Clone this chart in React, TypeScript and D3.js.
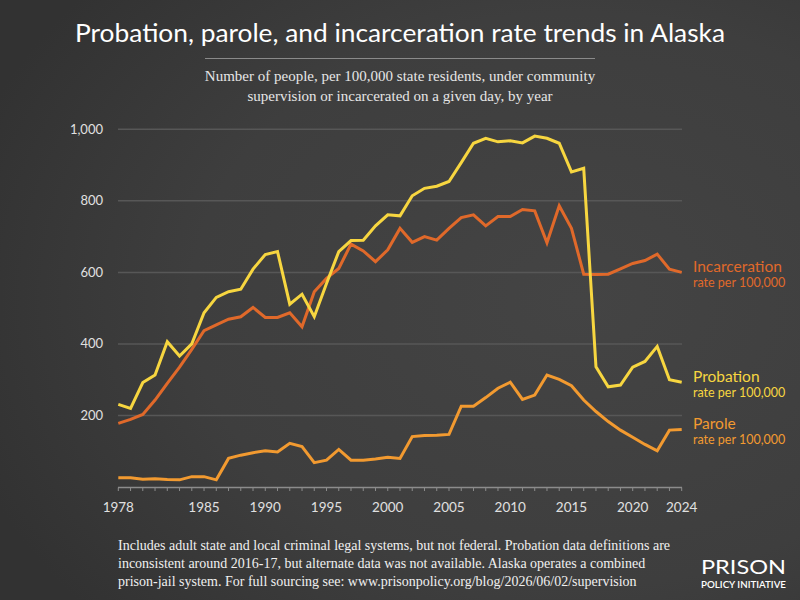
import React from "react";
import * as d3 from "d3";

const years: number[] = d3.range(1978, 2025);

const probation: number[] = [
  231, 220, 292, 313, 406, 366, 400, 487, 530, 546, 553, 609, 650, 658, 511, 539, 476, 569, 658, 689,
  690, 730, 761, 758, 814, 835, 841, 854, 907, 961, 975, 965, 968, 962, 981, 975, 961, 881, 891, 336,
  280, 285, 335, 351, 393, 300, 293,
];

const incarceration: number[] = [
  178, 189, 203, 243, 290, 335, 385, 437, 453, 469, 476, 502, 474, 474, 487, 448, 546, 583, 611, 679,
  660, 630, 663, 723, 684, 700, 690, 723, 753, 761, 730, 756, 756, 776, 772, 683, 786, 723, 595, 594,
  595, 610, 625, 633, 651, 609, 600,
];

const parole: number[] = [
  26, 26, 22, 23, 21, 20, 29, 29, 20, 80, 89, 96, 101, 98, 122, 113, 68, 75, 105, 75,
  75, 78, 83, 80, 141, 144, 145, 147, 226, 226, 250, 276, 293, 245, 257, 313, 301, 283, 243, 211,
  183, 159, 139, 119, 101, 159, 161,
];

const yTicks: number[] = [200, 400, 600, 800, 1000];
const xTickLabels: number[] = [1978, 1985, 1990, 1995, 2000, 2005, 2010, 2015, 2020, 2024];

const seriesNames = ["Incarceration", "Probation", "Parole"];
const seriesColors = ["#e0692a", "#f7d640", "#f29a30"];
const seriesData = [incarceration, probation, parole];

const footnoteLines = [
  "Includes adult state and local criminal legal systems, but not federal. Probation data definitions are",
  "inconsistent around 2016-17, but alternate data was not available. Alaska operates a combined",
  "prison-jail system. For full sourcing see: www.prisonpolicy.org/blog/2026/06/02/supervision",
];

const SANS = "Futura, 'Century Gothic', Lato, 'Noto Sans', sans-serif";
const SERIF = "'Liberation Serif', 'Times New Roman', serif";

export default function App() {
  const W = 800;
  const H = 600;
  const x = d3.scaleLinear().domain([1978, 2024]).range([118.3, 681.7]);
  const y = d3.scaleLinear().domain([0, 1000]).range([487, 129.3]);
  const line = d3
    .line<number>()
    .x((_, i) => x(years[i]))
    .y((d) => y(d))
    .curve(d3.curveLinear);

  const legendPos = [
    { name: "Incarceration", yMain: 272, ySub: 287 },
    { name: "Probation", yMain: 382, ySub: 397 },
    { name: "Parole", yMain: 429, ySub: 444 },
  ];

  return (
    <svg width={W} height={H} style={{ position: "absolute", left: 0, top: 0 }}>
      <defs>
        <radialGradient id="bg" cx="0.72" cy="0.5" r="0.8">
          <stop offset="0" stopColor="#444444" />
          <stop offset="0.6" stopColor="#3e3e3e" />
          <stop offset="1" stopColor="#323232" />
        </radialGradient>
      </defs>
      <rect x={0} y={0} width={W} height={H} fill="url(#bg)" />

      <text
        x={400}
        y={42}
        textAnchor="middle"
        fill="#ffffff"
        fontFamily={SANS}
        fontSize={25}
        textLength={650}
        lengthAdjust="spacingAndGlyphs"
      >
        Probation, parole, and incarceration rate trends in Alaska
      </text>
      <line x1={205} x2={595} y1={58.5} y2={58.5} stroke="#8a8a8a" strokeWidth={1} />
      <text x={400} y={81} textAnchor="middle" fill="#e6e6e6" fontFamily={SERIF} fontSize={15}>
        Number of people, per 100,000 state residents, under community
      </text>
      <text x={400} y={101} textAnchor="middle" fill="#e6e6e6" fontFamily={SERIF} fontSize={15}>
        supervision or incarcerated on a given day, by year
      </text>

      {yTicks.map((t) => (
        <g key={t}>
          <line x1={118} x2={682} y1={y(t)} y2={y(t)} stroke="#575757" strokeWidth={1.5} />
          <text
            x={103}
            y={y(t)}
            dy="0.35em"
            textAnchor="end"
            fill="#e0e0e0"
            fontFamily={SANS}
            fontSize={13}
          >
            {d3.format(",")(t)}
          </text>
        </g>
      ))}

      <line x1={118} x2={682} y1={487.5} y2={487.5} stroke="#8c8c8c" strokeWidth={1.5} />
      {years.map((yr) => (
        <line key={yr} x1={x(yr)} x2={x(yr)} y1={487.5} y2={491} stroke="#8c8c8c" strokeWidth={1} />
      ))}
      {xTickLabels.map((yr) => (
        <text
          key={yr}
          x={x(yr)}
          y={512}
          textAnchor="middle"
          fill="#e0e0e0"
          fontFamily={SANS}
          fontSize={13.5}
        >
          {yr}
        </text>
      ))}

      {seriesData.map((arr, i) => (
        <path
          key={seriesNames[i]}
          d={line(arr) || ""}
          fill="none"
          stroke={seriesColors[i]}
          strokeWidth={3}
          strokeLinejoin="miter"
        />
      ))}

      {legendPos.map((lp, i) => (
        <g key={lp.name}>
          <text x={693} y={lp.yMain} fill={seriesColors[i]} fontFamily={SANS} fontSize={15.5}>
            {lp.name}
          </text>
          <text x={693} y={lp.ySub} fill={seriesColors[i]} fontFamily={SANS} fontSize={12.5}>
            rate per 100,000
          </text>
        </g>
      ))}

      {footnoteLines.map((t, i) => (
        <text key={i} x={118} y={550 + i * 18} fill="#f0f0f0" fontFamily={SERIF} fontSize={14}>
          {t}
        </text>
      ))}

      <text
        x={701}
        y={574}
        fill="#ffffff"
        fontFamily={SANS}
        fontSize={20}
        textLength={85}
        lengthAdjust="spacingAndGlyphs"
      >
        PRISON
      </text>
      <text
        x={701}
        y={588}
        fill="#ffffff"
        fontFamily={SANS}
        fontSize={9.5}
        fontWeight={600}
        textLength={85}
        lengthAdjust="spacingAndGlyphs"
      >
        POLICY INITIATIVE
      </text>
    </svg>
  );
}
